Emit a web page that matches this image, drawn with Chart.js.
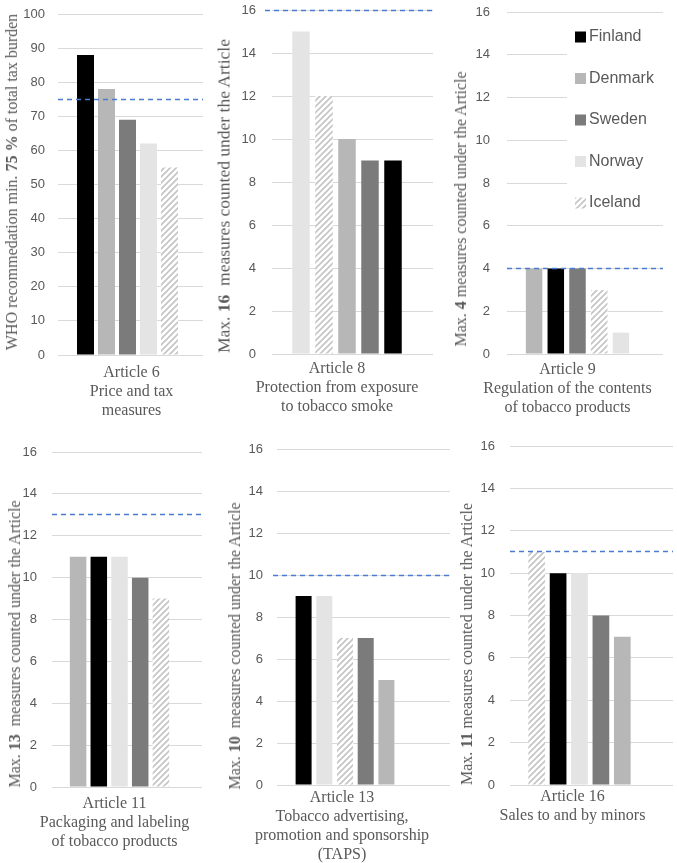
<!DOCTYPE html>
<html>
<head>
<meta charset="utf-8">
<script src="https://cdn.jsdelivr.net/npm/chart.js@4.4.1/dist/chart.umd.min.js"></script>
<style>
  html, body { margin: 0; background: #fff; }
  #wrap { position: relative; width: 677px; height: 863px; overflow: hidden; }
  .panel { position: absolute; }
  .ytitle {
    position: absolute;
    transform: translate(-50%, -50%) rotate(-90deg);
    white-space: pre;
    font: 16px 'Liberation Serif', serif;
    color: #595959;
  }
</style>
</head>
<body>
<div id="wrap"></div>
<script>
'use strict';

const countries = ['Finland', 'Denmark', 'Sweden', 'Norway', 'Iceland'];

// scores per article, same order as `countries`
const art6 = [88, 78, 69, 62, 55];
const art8 = [9, 10, 9, 15, 12];
const art9 = [4, 4, 4, 1, 3];
const art11 = [11, 11, 10, 11, 9];
const art13 = [9, 5, 7, 9, 7];
const art16 = [10, 7, 8, 10, 11];

// order of the bars inside each panel
const order6 = ['Finland', 'Denmark', 'Sweden', 'Norway', 'Iceland'];
const order8 = ['Norway', 'Iceland', 'Denmark', 'Sweden', 'Finland'];
const order9 = ['Denmark', 'Finland', 'Sweden', 'Iceland', 'Norway'];
const order11 = ['Denmark', 'Finland', 'Norway', 'Sweden', 'Iceland'];
const order13 = ['Finland', 'Norway', 'Iceland', 'Sweden', 'Denmark'];
const order16 = ['Iceland', 'Finland', 'Norway', 'Sweden', 'Denmark'];

const categories = [
  ['Article 6', 'Price and tax', 'measures'],
  ['Article 8', 'Protection from exposure', 'to tobacco smoke'],
  ['Article 9', 'Regulation of the contents', 'of tobacco products'],
  ['Article 11', 'Packaging and labeling', 'of tobacco products'],
  ['Article 13', 'Tobacco advertising,', 'promotion and sponsorship', '(TAPS)'],
  ['Article 16', 'Sales to and by minors']
];

const targets = [75, 16, 4, 13, 10, 11];
const yMax = [100, 16, 16, 16, 16, 16];
const yStep = [10, 2, 2, 2, 2, 2];

const yTitles = [
  ['WHO recommedation min. ', '75 %', ' of total tax burden'],
  ['Max. ', '16', '  measures counted under the Article'],
  ['Max. ', '4', ' measures counted under the Article'],
  ['Max. ', '13', '  measures counted under the Article'],
  ['Max. ', '10', '  measures counted under the Article'],
  ['Max. ', '11', ' measures counted under the Article']
];

const series = [art6, art8, art9, art11, art13, art16];
const orders = [order6, order8, order9, order11, order13, order16];

// page geometry of each panel (plot area, grid end, title centre...)
const layout = [
  { l: 58,  t: 14,  r: 197, b: 355, ext: 203, from: 58,  tx: 12,  ty: 182, tsize: 16,   yPad: 13, tickPad: 8, lblOff: 4,   slot: 21,   bar: 17 },
  { l: 272, t: 10,  r: 422, b: 354, ext: 433, from: 265, tx: 224, ty: 196, tsize: 17.5, yPad: 16, tickPad: 5, lblOff: -10, slot: 23,   bar: 17.5 },
  { l: 507, t: 12,  r: 648, b: 354, ext: 663, from: 507, tx: 461, ty: 209, tsize: 16,   yPad: 17, tickPad: 6, lblOff: -10, slot: 21.7, bar: 16.5 },
  { l: 52,  t: 452, r: 187, b: 787, ext: 202, from: 52,  tx: 15,  ty: 644, tsize: 16,   yPad: 15, tickPad: 7, lblOff: -5,  slot: 20.7, bar: 16.5 },
  { l: 277, t: 449, r: 413, b: 785, ext: 450, from: 273, tx: 235, ty: 646, tsize: 16,   yPad: 14, tickPad: 3, lblOff: -3,  slot: 20.7, bar: 16 },
  { l: 510, t: 446, r: 649, b: 785, ext: 673, from: 510, tx: 467, ty: 644, tsize: 16,   yPad: 15, tickPad: 2, lblOff: -7,  slot: 21.4, bar: 16.7 }
];
const legendBox = { x: 567, y: 22, w: 96, h: 195, first: 37, gap: 41.5, sx: 575, sw: 11, tx: 589 };

const yw = 40, padTop = 12, xh = 84;
const txtColor = '#595959';
const gridColor = '#d9d9d9';

function hatch() {
  const c = document.createElement('canvas');
  c.width = 6; c.height = 6;
  const g = c.getContext('2d');
  g.fillStyle = '#fff';
  g.fillRect(0, 0, 6, 6);
  g.strokeStyle = '#c4c4c4';
  g.lineWidth = 1.6;
  g.beginPath();
  g.moveTo(0, 6); g.lineTo(6, 0);
  g.moveTo(-1, 1); g.lineTo(1, -1);
  g.moveTo(5, 7); g.lineTo(7, 5);
  g.stroke();
  return g.createPattern(c, 'repeat');
}

const colors = {
  Finland: '#000000',
  Denmark: '#b7b7b7',
  Sweden: '#7b7b7b',
  Norway: '#e4e4e4',
  Iceland: hatch()
};

// grid lines continue past the plot area to the right, like in the figure
const gridTail = {
  id: 'gridTail',
  beforeDatasetsDraw(chart, args, opts) {
    const { ctx, chartArea } = chart;
    const y = chart.scales.y;
    ctx.save();
    ctx.strokeStyle = gridColor;
    ctx.lineWidth = 1;
    ctx.beginPath();
    y.ticks.forEach(function(t) {
      const py = Math.round(y.getPixelForValue(t.value) - 0.5) + 0.5;
      ctx.moveTo(chartArea.right, py);
      ctx.lineTo(opts.to, py);
    });
    ctx.stroke();
    ctx.restore();
  }
};

// dashed blue recommendation line
const targetLine = {
  id: 'targetLine',
  afterDatasetsDraw(chart, args, opts) {
    const ctx = chart.ctx;
    const py = Math.round(chart.scales.y.getPixelForValue(opts.value) - 0.5) + 0.5;
    ctx.save();
    ctx.strokeStyle = '#4a7bd0';
    ctx.lineWidth = 1.4;
    ctx.setLineDash([5, 4]);
    ctx.beginPath();
    ctx.moveTo(opts.from, py);
    ctx.lineTo(opts.to, py);
    ctx.stroke();
    ctx.restore();
  }
};

// legend inside the Article 9 panel, white box over the grid
const panelLegend = {
  id: 'panelLegend',
  afterDraw(chart, args, opts) {
    const b = opts.box;
    if (!b) return;
    const ctx = chart.ctx;
    ctx.save();
    ctx.fillStyle = '#fff';
    ctx.fillRect(b.x, b.y, b.w, b.h);
    ctx.font = '16px "Liberation Sans", Arial, sans-serif';
    ctx.textBaseline = 'middle';
    countries.forEach(function(c, k) {
      const ds = chart.data.datasets.find(function(d) { return d.label === c; });
      const cy = b.first + k * b.gap;
      ctx.fillStyle = ds.backgroundColor;
      ctx.fillRect(b.sx, cy - b.sw / 2, b.sw, b.sw);
      ctx.fillStyle = txtColor;
      ctx.fillText(c, b.tx, cy);
    });
    ctx.restore();
  }
};

const wrap = document.getElementById('wrap');

layout.forEach(function(L, i) {
  const left = L.l - yw;
  const top = L.t - padTop;
  const w = L.ext + 4 - left;
  const h = L.b + xh - top;

  const box = document.createElement('div');
  box.className = 'panel';
  box.style.left = left + 'px';
  box.style.top = top + 'px';
  box.style.width = w + 'px';
  box.style.height = h + 'px';
  const cv = document.createElement('canvas');
  box.appendChild(cv);
  wrap.appendChild(box);

  const tt = document.createElement('div');
  tt.className = 'ytitle';
  tt.style.left = L.tx + 'px';
  tt.style.top = L.ty + 'px';
  tt.style.fontSize = L.tsize + 'px';
  const parts = yTitles[i];
  tt.appendChild(document.createTextNode(parts[0]));
  const bold = document.createElement('b');
  bold.textContent = parts[1];
  tt.appendChild(bold);
  tt.appendChild(document.createTextNode(parts[2]));
  wrap.appendChild(tt);

  const vals = series[i];
  const datasets = orders[i].map(function(c) {
    return {
      label: c,
      data: [vals[countries.indexOf(c)]],
      backgroundColor: colors[c],
      borderWidth: 0
    };
  });

  const plotW = L.r - L.l;
  let legendOpts = {};
  if (i === 2) {
    legendOpts = { box: {
      x: legendBox.x - left, y: legendBox.y - top, w: legendBox.w, h: legendBox.h,
      first: legendBox.first - top, gap: legendBox.gap,
      sx: legendBox.sx - left, sw: legendBox.sw, tx: legendBox.tx - left
    } };
  }

  new Chart(cv, {
    type: 'bar',
    data: { labels: [categories[i]], datasets: datasets },
    options: {
      responsive: true,
      maintainAspectRatio: false,
      animation: false,
      layout: { padding: { top: padTop, left: 0, bottom: 0, right: w - (L.r - left) } },
      datasets: { bar: { categoryPercentage: 5 * L.slot / plotW, barPercentage: L.bar / L.slot } },
      plugins: {
        legend: { display: false },
        tooltip: { enabled: false },
        gridTail: { to: L.ext - left },
        targetLine: { value: targets[i], from: L.from - left, to: L.ext - left },
        panelLegend: legendOpts
      },
      scales: {
        x: {
          grid: { display: false, drawTicks: false },
          border: { display: false },
          ticks: {
            color: txtColor,
            font: { family: "'Liberation Serif', serif", size: 16, lineHeight: 1.2 },
            padding: L.tickPad,
            labelOffset: L.lblOff,
            maxRotation: 0,
            minRotation: 0,
            autoSkip: false
          },
          afterFit: function(s) { s.height = xh; s.paddingLeft = 0; s.paddingRight = 0; }
        },
        y: {
          min: 0,
          max: yMax[i],
          grid: { color: gridColor, drawTicks: false },
          border: { display: false },
          ticks: {
            stepSize: yStep[i],
            color: txtColor,
            font: { family: "'Liberation Sans', Arial, sans-serif", size: 13 },
            padding: L.yPad
          },
          // keep the plot top where the layout says, not pushed down by tick padding
          afterFit: function(s) { s.width = yw; s.paddingTop = 0; s.paddingBottom = 0; }
        }
      }
    },
    plugins: [gridTail, targetLine, panelLegend]
  });
});
</script>
</body>
</html>
